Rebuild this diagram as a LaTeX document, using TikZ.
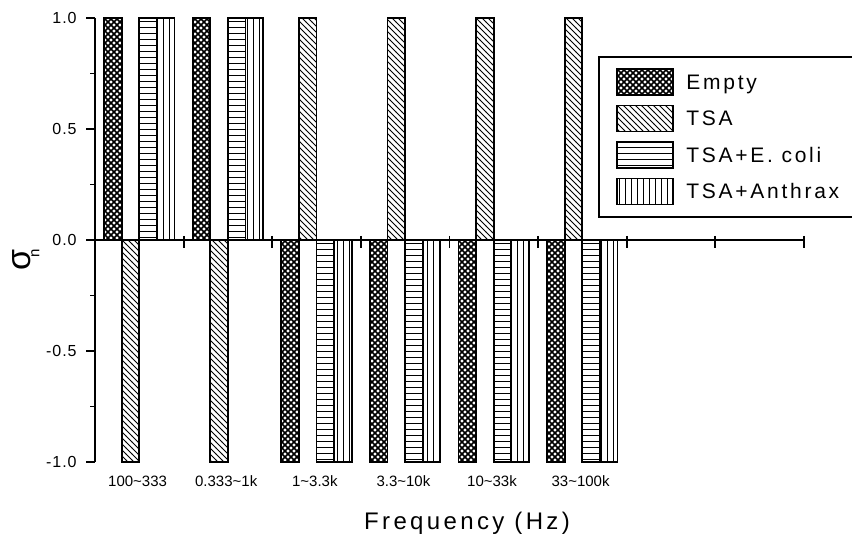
\documentclass[tikz,border=0pt]{standalone}
\usepackage{fontspec}
\setmainfont{Liberation Sans}
\usetikzlibrary{patterns}

% darker diamond hatch for the empty cell
\pgfdeclarepatternformonly{emptyhatch}{\pgfqpoint{-1pt}{-1pt}}{\pgfqpoint{4pt}{4pt}}{\pgfqpoint{3pt}{3pt}}{
  \pgfsetlinewidth{0.8pt}
  \pgfpathmoveto{\pgfqpoint{-0.1pt}{-0.1pt}}\pgfpathlineto{\pgfqpoint{3.1pt}{3.1pt}}
  \pgfpathmoveto{\pgfqpoint{-0.1pt}{3.1pt}}\pgfpathlineto{\pgfqpoint{3.1pt}{-0.1pt}}
  \pgfusepath{stroke}}

\begin{document}
\begin{tikzpicture}[x=0.5pt,y=111pt,
    bar/.style={draw,line width=0.9pt},
    empty/.style={pattern=emptyhatch},
    tsa/.style={pattern=north west lines},
    ecoli/.style={pattern=horizontal lines},
    anthrax/.style={pattern=vertical lines},
    swatch/.style={draw,line width=0.7pt,minimum width=28pt,minimum height=13pt,inner sep=0pt},
    ticklab/.style={anchor=east,inner sep=0pt,font=\fontsize{8}{9}\selectfont\addfontfeature{LetterSpace=6}},
    grouplab/.style={inner sep=0pt,font=\fontsize{7.5}{8}\selectfont},
    leglab/.style={anchor=base west,inner sep=0pt,font=\fontsize{10.5}{12}\selectfont\addfontfeature{LetterSpace=13}}]
  \useasboundingbox (-95,-1.3964) rectangle (757,1.0811);
  % bars: group / empty / tsa / e. coli / anthrax
  \foreach \g/\e/\t/\c/\a in {0/1/-1/1/1,1/1/-1/1/1,2/-1/1/-1/-1,3/-1/1/-1/-1,4/-1/1/-1/-1,5/-1/1/-1/-1}
    {\draw [bar,empty]   (88.6*\g+9,0) rectangle +(17.6,\e);
     \draw [bar,tsa]     (88.6*\g+26.6,0) rectangle +(17.6,\t);
     \draw [bar,ecoli]   (88.6*\g+44.2,0) rectangle +(17.6,\c);
     \draw [bar,anthrax] (88.6*\g+61.8,0) rectangle +(17.6,\a);}
  % axes
  \coordinate (o) at (0,0);
  \coordinate (xend) at (709,0);
  \coordinate (ytop) at (0,1);
  \coordinate (ybot) at (0,-1);
  \draw [line width=0.9pt] (ytop) -- (ybot);
  \draw [line width=0.9pt] (o) -- (xend);
  \foreach \x in {1,...,8}
    {\draw [line width=0.9pt] (88.6*\x,0.018) -- (88.6*\x,-0.036);}
  \foreach \y in {-0.75,-0.25,0.25,0.75}
    {\draw [line width=0.9pt] (-5,\y) -- (0,\y);}
  \foreach \y/\lab [count=\i] in {1/1.0,0.5/0.5,0/0.0,-0.5/-0.5,-1/-1.0}
    {\draw [line width=0.9pt] (-9,\y) -- (0,\y);
     \node [ticklab] (ylab\i) at (-18,\y) {\lab};}
  \foreach \lab [count=\i] in {100\textasciitilde 333,0.333\textasciitilde 1k,1\textasciitilde 3.3k,3.3\textasciitilde 10k,10\textasciitilde 33k,33\textasciitilde 100k}
    {\node [grouplab] (f\i) at (88.6*\i-46,-1.0856) {\lab};}
  \node [font=\fontsize{12}{14}\selectfont\addfontfeature{LetterSpace=14}] (xtitle) at (372,-1.2748) {Frequency (Hz)};
  \node [rotate=90,inner sep=0pt] (ytitle) at (-69,-0.09) {\fontsize{17}{17}\selectfont σ\kern-4pt\raisebox{-4.5pt}{\fontsize{7.5}{8}\selectfont n}};
  % legend
  \draw [line width=0.9pt] (504,0.8243) rectangle (800,0.1036);
  \foreach \s/\lab [count=\i] in {empty/Empty,tsa/TSA,ecoli/TSA+E. coli,anthrax/TSA+Anthrax}
    {\node [swatch,\s] (s\i) at (550,0.7117-0.1644*\i+0.1644) {};
     \node [leglab] (l\i) at (591,0.6779-0.1644*\i+0.1644) {\lab};}
\end{tikzpicture}
\end{document}
